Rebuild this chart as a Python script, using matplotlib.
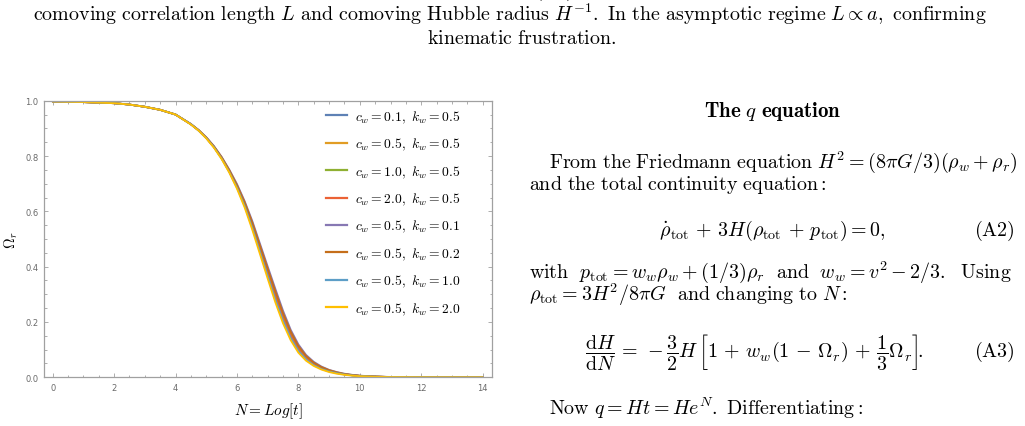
import matplotlib
matplotlib.use("Agg")
import matplotlib.pyplot as plt
from matplotlib.ticker import MultipleLocator
from matplotlib.lines import Line2D

plt.rcParams['mathtext.fontset'] = 'cm'
plt.rcParams['font.family'] = ['DejaVu Sans']

W, H = 1025, 427

# ---------------- data ----------------
N_vals = [0, 1, 1.5, 2, 2.5, 3, 3.5, 4, 4.5, 4.75, 5, 5.25, 5.5, 5.75, 6, 6.25,
          6.5, 6.75, 7, 7.25, 7.5, 7.75, 8, 8.25, 8.5, 8.75, 9, 9.25, 9.5, 9.75,
          10, 10.5, 11, 12, 13, 14]

head = [0.997, 0.995, 0.993, 0.991, 0.986, 0.978, 0.967, 0.950]

omega_cw01_k05 = head + [0.915, 0.893, 0.866, 0.833, 0.793, 0.745, 0.690, 0.625, 0.548, 0.463,
                         0.378, 0.294, 0.217, 0.152, 0.103, 0.070, 0.048, 0.033, 0.023, 0.016,
                         0.011, 0.0075, 0.005, 0.0023, 0.001, 0.0002, 0.00005, 0.00001]
omega_cw05_k05 = list(omega_cw01_k05)
omega_cw10_k05 = list(omega_cw01_k05)
omega_cw20_k05 = list(omega_cw01_k05)
omega_cw05_k01 = head + [0.916, 0.894, 0.868, 0.836, 0.797, 0.751, 0.699, 0.637, 0.565, 0.483,
                         0.401, 0.320, 0.241, 0.172, 0.119, 0.081, 0.056, 0.039, 0.027, 0.019,
                         0.013, 0.009, 0.006, 0.0028, 0.0012, 0.0003, 0.0001, 0.00002]
omega_cw05_k02 = head + [0.915, 0.894, 0.867, 0.835, 0.796, 0.749, 0.695, 0.633, 0.559, 0.476,
                         0.393, 0.311, 0.232, 0.165, 0.113, 0.077, 0.053, 0.037, 0.026, 0.018,
                         0.012, 0.0085, 0.0056, 0.0026, 0.0011, 0.0002, 0.00005, 0.00001]
omega_cw05_k10 = head + [0.915, 0.892, 0.865, 0.832, 0.791, 0.742, 0.686, 0.620, 0.541, 0.454,
                         0.368, 0.282, 0.206, 0.143, 0.096, 0.065, 0.044, 0.030, 0.021, 0.015,
                         0.010, 0.0068, 0.0045, 0.0021, 0.0009, 0.0002, 0.00005, 0.00001]
omega_cw05_k20 = head + [0.914, 0.892, 0.864, 0.830, 0.789, 0.740, 0.682, 0.614, 0.533, 0.445,
                         0.357, 0.271, 0.195, 0.134, 0.089, 0.060, 0.041, 0.028, 0.019, 0.013,
                         0.009, 0.006, 0.004, 0.0019, 0.0008, 0.0002, 0.00004, 0.00001]

labels = [r"$c_w = 0.1,\ k_w = 0.5$", r"$c_w = 0.5,\ k_w = 0.5$", r"$c_w = 1.0,\ k_w = 0.5$",
          r"$c_w = 2.0,\ k_w = 0.5$", r"$c_w = 0.5,\ k_w = 0.1$", r"$c_w = 0.5,\ k_w = 0.2$",
          r"$c_w = 0.5,\ k_w = 1.0$", r"$c_w = 0.5,\ k_w = 2.0$"]
series = [omega_cw01_k05, omega_cw05_k05, omega_cw10_k05, omega_cw20_k05,
          omega_cw05_k01, omega_cw05_k02, omega_cw05_k10, omega_cw05_k20]
colors = ["#5E81B5", "#E19C24", "#8FB032", "#EB6235", "#8778B3", "#C56E1A", "#5D9EC7", "#FFBF00"]

x_ticks = [0, 2, 4, 6, 8, 10, 12, 14]
y_ticks = [0.0, 0.2, 0.4, 0.6, 0.8, 1.0]

# ---------------- figure ----------------
fig = plt.figure(figsize=(W / 100, H / 100), dpi=100)

def fx(x):
    return x / W

def fy(y):
    return 1 - y / H

ax_l, ax_r, ax_t, ax_b = 44, 492, 101.7, 378.3
ax = fig.add_axes([fx(ax_l), fy(ax_b), fx(ax_r - ax_l), (ax_b - ax_t) / H])

for vals, col, lab in zip(series, colors, labels):
    ax.plot(N_vals, vals, color=col, lw=1.3, label=lab, solid_capstyle='round')

x0 = -0.283
xpx = 30.71
ax.set_xlim(x0, x0 + (ax_r - ax_l) / xpx)
ax.set_ylim(0, 1)
ax.set_xticks(x_ticks)
ax.set_yticks(y_ticks)
ax.set_yticklabels([f"{v:.1f}" for v in y_ticks])
ax.xaxis.set_minor_locator(MultipleLocator(0.5))
ax.yaxis.set_minor_locator(MultipleLocator(0.05))
frame_col = "#a0a0a0"
for s in ax.spines.values():
    s.set_color(frame_col)
    s.set_linewidth(0.9)
ax.tick_params(which='both', direction='in', top=True, right=True, color=frame_col,
               labelcolor="#6a6a6a", labelsize=6, width=0.6)
ax.tick_params(which='major', length=3.2, pad=4)
ax.tick_params(which='minor', length=1.8)

ax.set_xlabel(r"$N = Log[t]$", fontsize=11, labelpad=6)
ax.set_ylabel(r"$\Omega_r$", fontsize=10.5, va='center', ha='center')
ax.yaxis.set_label_coords((11.7 - ax_l) / (ax_r - ax_l), 0.5)

handles = [Line2D([], [], color=c, lw=1.6) for c in colors]
leg = ax.legend(handles, labels, loc='upper left', bbox_to_anchor=(fx(326), fy(109.5)),
                bbox_transform=fig.transFigure, frameon=False, fontsize=9.8,
                handlelength=1.55, handletextpad=0.55, labelspacing=0.82, borderpad=0,
                borderaxespad=0)

# ---------------- page text ----------------
def rm(s):
    return r"\mathrm{" + s.replace(" ", r"\ ") + "}"

fs = 14.4
# caption (top, mostly cut off by the page edge in the reference)
fig.text(fx(512), fy(-4),
         "$" + rm("Ratio between the domain wall energy density") + r"\ \rho_{\rm DW}\ "
         + rm("and the horizon") + r"\ (t_{\rm eh}),\ " + rm("with the ratio approaching unity; log-log scaling of the") + "$",
         ha='center', va='baseline', fontsize=fs)
fig.text(fx(510), fy(21),
         "$" + rm("comoving correlation length") + r"\ L\ " + rm("and comoving Hubble radius")
         + r"\ H^{-1}" + rm(". In the asymptotic regime") + r"\ L \propto a" + rm(", confirming") + "$",
         ha='center', va='baseline', fontsize=fs)
fig.text(fx(522), fy(44), "$" + rm("kinematic frustration.") + "$",
         ha='center', va='baseline', fontsize=fs)

# right column
fig.text(fx(773), fy(117), r"$\mathbf{The}\ q\ \mathbf{equation}$", ha='center', va='baseline',
         fontsize=15)
fig.text(fx(549), fy(167.7),
         "$" + rm("From the Friedmann equation") + r"\ H^2 = (8\pi G/3)(\rho_w + \rho_r)$",
         ha='left', va='baseline', fontsize=fs)
fig.text(fx(529), fy(190), "$" + rm("and the total continuity equation:") + "$",
         ha='left', va='baseline', fontsize=fs)
fig.text(fx(772), fy(235.7),
         r"$\dot{\rho}_{\rm tot} \,+\, 3H(\rho_{\rm tot} \,+\, p_{\rm tot}) = 0,$",
         ha='center', va='baseline', fontsize=fs)
fig.text(fx(1015), fy(235.7), r"$\mathrm{(A2)}$", ha='right', va='baseline', fontsize=fs)
fig.text(fx(529), fy(278.3),
         r"$\mathrm{with}\ \ p_{\rm tot} = w_w\rho_w + (1/3)\rho_r\ \ \mathrm{and}\ \ w_w = v^2 - 2/3.\ \ \mathrm{Using}$",
         ha='left', va='baseline', fontsize=fs)
fig.text(fx(529), fy(300.7),
         r"$\rho_{\rm tot} = 3H^2/8\pi G\ " + rm(" and changing to") + r"\ N\mathrm{:}$",
         ha='left', va='baseline', fontsize=fs)
fig.text(fx(585), fy(352),
         r"$\dfrac{\mathrm{d}H}{\mathrm{d}N} \,=\, -\dfrac{3}{2}H\,\left[1 \,+\, w_w(1\,-\,\Omega_r) \,+\, \dfrac{1}{3}\Omega_r\right]\!.$",
         ha='left', va='center', fontsize=fs)
fig.text(fx(1015), fy(357), r"$\mathrm{(A3)}$", ha='right', va='baseline', fontsize=fs)
fig.text(fx(549), fy(415),
         "$" + rm("Now") + r"\ q = Ht = He^N" + rm(". Differentiating:") + "$",
         ha='left', va='baseline', fontsize=fs)

fig.savefig("out.png", dpi=100)
